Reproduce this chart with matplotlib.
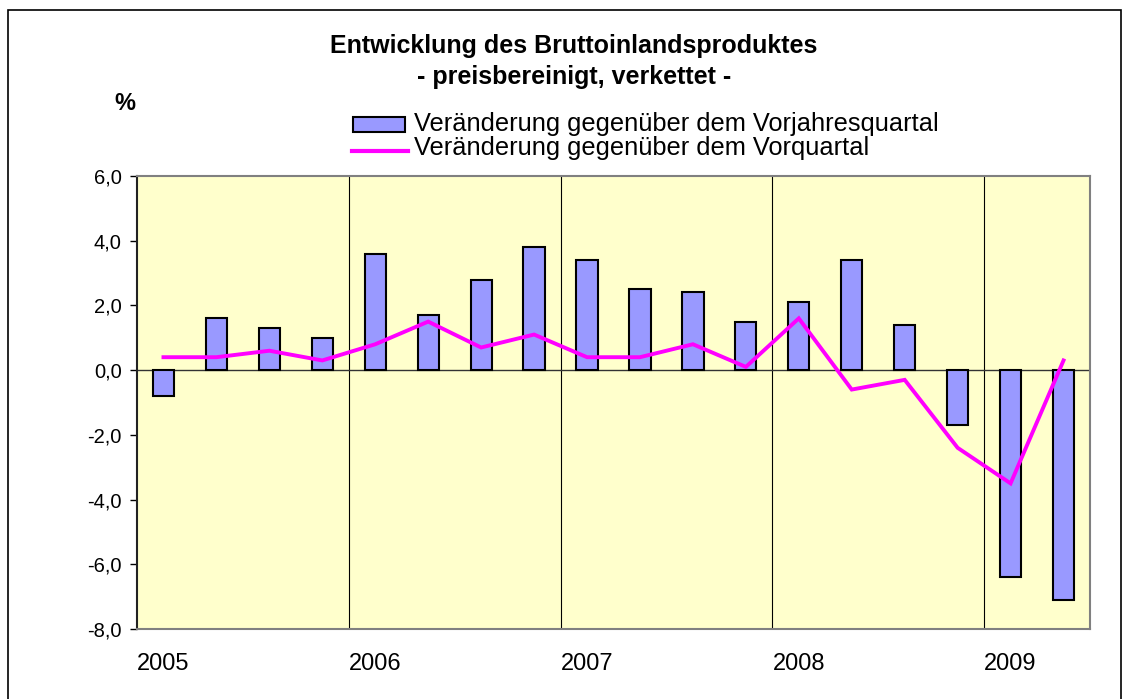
import matplotlib
matplotlib.use("Agg")
import matplotlib.pyplot as plt
from matplotlib.patches import Rectangle
from matplotlib.lines import Line2D
from matplotlib.ticker import FuncFormatter
import numpy as np

plt.rcParams['font.family'] = ['Liberation Sans', 'DejaVu Sans']

quarters = ["2005Q1", "2005Q2", "2005Q3", "2005Q4",
            "2006Q1", "2006Q2", "2006Q3", "2006Q4",
            "2007Q1", "2007Q2", "2007Q3", "2007Q4",
            "2008Q1", "2008Q2", "2008Q3", "2008Q4",
            "2009Q1", "2009Q2"]
vorjahr = [-0.8, 1.6, 1.3, 1.0, 3.6, 1.7, 2.8, 3.8, 3.4, 2.5, 2.4, 1.5,
           2.1, 3.4, 1.4, -1.7, -6.4, -7.1]
vorquartal = [0.4, 0.4, 0.6, 0.3, 0.8, 1.5, 0.7, 1.1, 0.4, 0.4, 0.8, 0.1,
              1.6, -0.6, -0.3, -2.4, -3.5, 0.3]
year_labels = ["2005", "2006", "2007", "2008", "2009"]
yticks = [-8, -6, -4, -2, 0, 2, 4, 6]
legend_labels = ["Veränderung gegenüber dem Vorjahresquartal",
                 "Veränderung gegenüber dem Vorquartal"]

BAR_COLOR = '#9999FF'
LINE_COLOR = '#FF00FF'

W, H = 1129, 699
fig = plt.figure(figsize=(W / 100, H / 100), dpi=100)
fig.patch.set_facecolor('white')
ax = fig.add_axes([137 / W, 1 - 629 / H, (1090 - 137) / W, (629 - 176) / H])
ax.set_facecolor('#FFFFCC')

x = np.arange(len(quarters))
ax.bar(x, vorjahr, width=0.4, color=BAR_COLOR, edgecolor='black', linewidth=1.5, zorder=3)
ax.plot(x, vorquartal, color=LINE_COLOR, linewidth=2.8, zorder=4, solid_joinstyle='miter')

ax.axhline(0, color='#333333', linewidth=1.0, zorder=2)
for b in [3.5, 7.5, 11.5, 15.5]:
    ax.axvline(b, color='black', linewidth=0.8, zorder=1)

ax.set_xlim(-0.5, len(quarters) - 0.5)
ax.set_ylim(-8, 6)
ax.set_yticks(yticks)
ax.yaxis.set_major_formatter(FuncFormatter(lambda v, p: f"{v:.1f}".replace('.', ',')))
ax.tick_params(axis='y', direction='out', length=5, width=1, pad=6, labelsize=14.5, colors='black')
ax.set_xticks([0, 4, 8, 12, 16])
ax.set_xticklabels(year_labels)
ax.tick_params(axis='x', length=0, pad=17, labelsize=17)

for s in ['top', 'right', 'bottom']:
    ax.spines[s].set_color('#808080')
    ax.spines[s].set_linewidth(1.5)
ax.spines['left'].set_color('#222222')
ax.spines['left'].set_linewidth(1.5)

fig.text(574 / W, 1 - 53 / H, "Entwicklung des Bruttoinlandsproduktes", ha='center', va='baseline',
         fontsize=18, fontweight='bold')
fig.text(574 / W, 1 - 84 / H, "- preisbereinigt, verkettet -", ha='center', va='baseline',
         fontsize=18, fontweight='bold')
fig.text(125 / W, 1 - 110 / H, "%", ha='center', va='baseline', fontsize=17, fontweight='bold')

# manual legend (tight Excel-like spacing)
fig.add_artist(Rectangle((353 / W, 1 - 132 / H), (405 - 353) / W, (132 - 117) / H,
                         transform=fig.transFigure, facecolor=BAR_COLOR, edgecolor='black',
                         linewidth=1.5))
fig.add_artist(Line2D([352 / W, 408 / W], [1 - 151 / H, 1 - 151 / H],
                      transform=fig.transFigure, color=LINE_COLOR, linewidth=3))
fig.text(414 / W, 1 - 131.5 / H, legend_labels[0], ha='left', va='baseline', fontsize=18.3)
fig.text(414 / W, 1 - 155 / H, legend_labels[1], ha='left', va='baseline', fontsize=18.3)

fig.add_artist(Rectangle((8 / W, -0.01), (1121 - 8) / W, 1 - 10 / H + 0.01,
                         transform=fig.transFigure, fill=False, edgecolor='black', linewidth=1.2))

fig.savefig("out.png", dpi=100)
